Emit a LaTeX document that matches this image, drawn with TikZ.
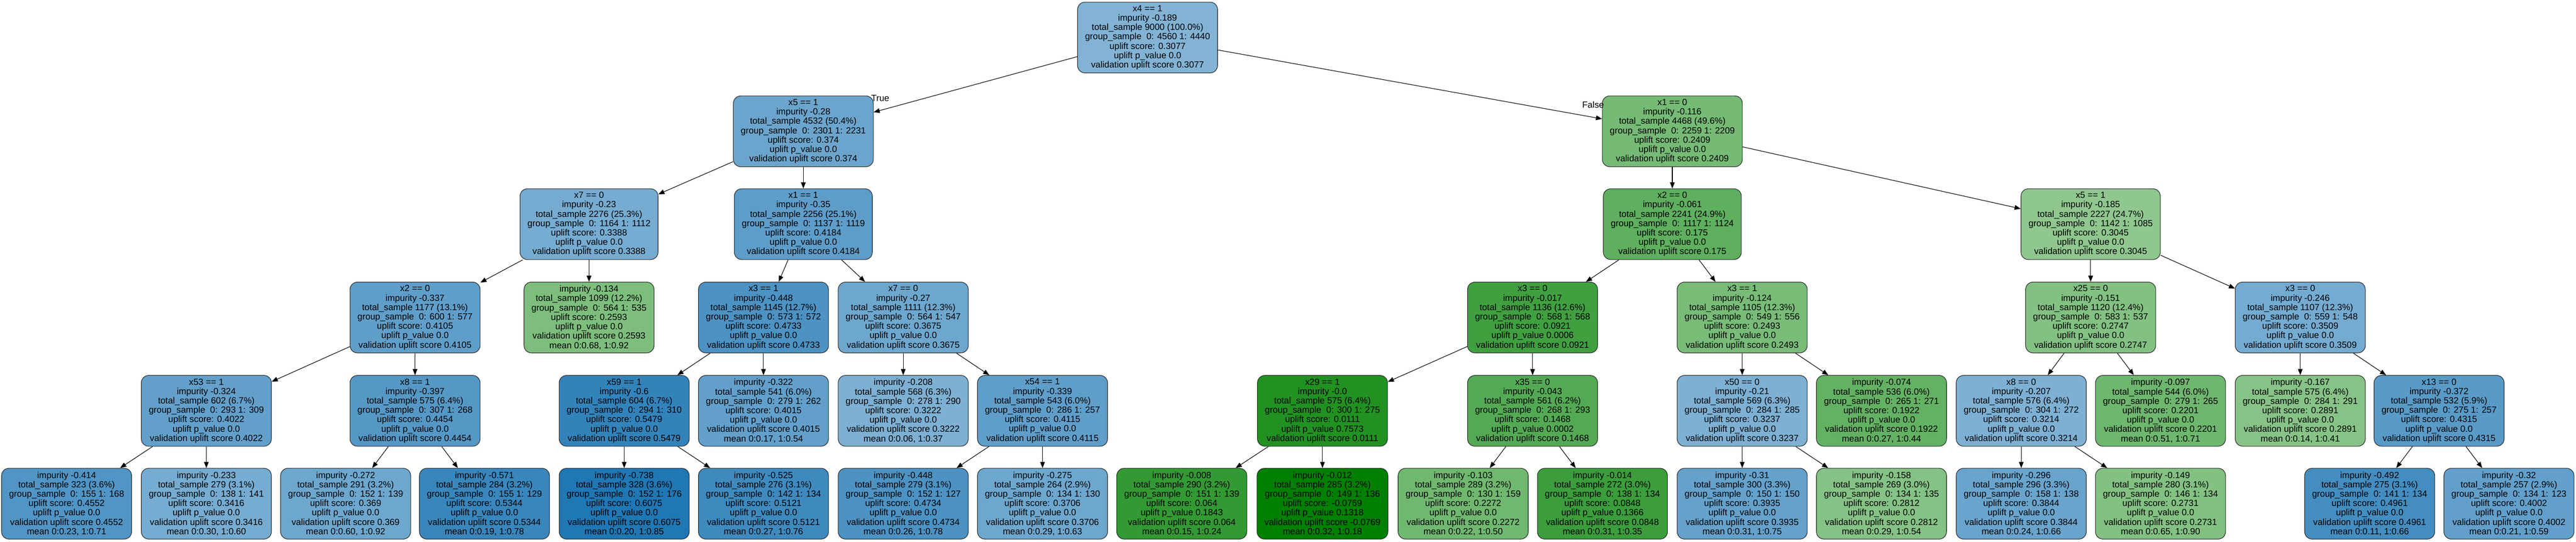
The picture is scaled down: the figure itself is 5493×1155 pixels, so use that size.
\documentclass[tikz,border=0pt]{standalone}
\usepackage{fontspec}
\setmainfont{Liberation Sans}
\usepackage{xcolor}
\usetikzlibrary{arrows.meta}

\definecolor{tblue}{RGB}{31,119,180}
\definecolor{tgreen}{RGB}{0,128,0}

\newcommand{\splitlab}[7]{#1\\impurity #2\\total\_sample #3\\group\_sample\ \ 0: #4 1: #5\\uplift score: #6\\uplift p\_value #7\\validation uplift score #6}
\newcommand{\leaflab}[8]{impurity #1\\total\_sample #2\\group\_sample\ \ 0: #3 1: #4\\uplift score: #5\\uplift p\_value #6\\validation uplift score #5\\mean 0:#7, 1:#8}

\tikzset{
	tnode/.style={draw=black!85, line width=1.2pt, rounded corners=16pt, align=center,
		font=\fontsize{19}{20}\selectfont, inner xsep=16pt, inner ysep=0pt,
		minimum width=272pt, minimum height=151pt},
	bnode/.style={tnode, fill=tblue!#1},
	gnode/.style={tnode, fill=tgreen!#1},
	link/.style={draw=black, line width=1.2pt, -{Triangle[length=13pt,width=10pt]}},
	edgelab/.style={font=\fontsize{19}{20}\selectfont, inner sep=0pt}
}

\begin{document}
\begin{tikzpicture}[x=1pt,y=-1pt]
	\useasboundingbox (0,0) rectangle (5493,1155);
	
	% root and first split
	\node[bnode=56] (r) at (2447,80) {\splitlab{x4 == 1}{-0.189}{9000 (100.0\%)}{4560}{4440}{0.3077}{0.0}};
	\node[bnode=66] (t) at (1713,280) {\splitlab{x5 == 1}{-0.28}{4532 (50.4\%)}{2301}{2231}{0.374}{0.0}};
	\node[gnode=54] (f) at (3566,280) {\splitlab{x1 == 0}{-0.116}{4468 (49.6\%)}{2259}{2209}{0.2409}{0.0}};
	
	\node[bnode=61] (tt) at (1256,478) {\splitlab{x7 == 0}{-0.23}{2276 (25.3\%)}{1164}{1112}{0.3388}{0.0}};
	\node[bnode=72] (tf) at (1713,478) {\splitlab{x1 == 1}{-0.35}{2256 (25.1\%)}{1137}{1119}{0.4184}{0.0}};
	\node[gnode=63] (ft) at (3566,478) {\splitlab{x2 == 0}{-0.061}{2241 (24.9\%)}{1117}{1124}{0.175}{0.0}};
	\node[gnode=44] (ff) at (4458,478) {\splitlab{x5 == 1}{-0.185}{2227 (24.7\%)}{1142}{1085}{0.3045}{0.0}};
	
	\node[bnode=71] (ttt) at (885,677) {\splitlab{x2 == 0}{-0.337}{1177 (13.1\%)}{600}{577}{0.4105}{0.0}};
	\node[gnode=51] (ttf) at (1256,677) {\leaflab{-0.134}{1099 (12.2\%)}{564}{535}{0.2593}{0.0}{0.68}{0.92}};
	\node[bnode=80] (tft) at (1628,677) {\splitlab{x3 == 1}{-0.448}{1145 (12.7\%)}{573}{572}{0.4733}{0.0}};
	\node[bnode=65] (tff) at (1926,677) {\splitlab{x7 == 0}{-0.27}{1111 (12.3\%)}{564}{547}{0.3675}{0.0}};
	\node[gnode=75] (ftt) at (3268,677) {\splitlab{x3 == 0}{-0.017}{1136 (12.6\%)}{568}{568}{0.0921}{0.0006}};
	\node[gnode=53] (ftf) at (3715,677) {\splitlab{x3 == 1}{-0.124}{1105 (12.3\%)}{549}{556}{0.2493}{0.0}};
	\node[gnode=49] (fft) at (4458,677) {\splitlab{x25 == 0}{-0.151}{1120 (12.4\%)}{583}{537}{0.2747}{0.0}};
	\node[bnode=62] (fff) at (4905,677) {\splitlab{x3 == 0}{-0.246}{1107 (12.3\%)}{559}{548}{0.3509}{0.0}};
	
	\node[bnode=70] (tttt) at (440,876) {\splitlab{x53 == 1}{-0.324}{602 (6.7\%)}{293}{309}{0.4022}{0.0}};
	\node[bnode=76] (tttf) at (885,876) {\splitlab{x8 == 1}{-0.397}{575 (6.4\%)}{307}{268}{0.4454}{0.0}};
	\node[bnode=91] (tftt) at (1331,876) {\splitlab{x59 == 1}{-0.6}{604 (6.7\%)}{294}{310}{0.5479}{0.0}};
	\node[bnode=70] (tftf) at (1628,876) {\leaflab{-0.322}{541 (6.0\%)}{279}{262}{0.4015}{0.0}{0.17}{0.54}};
	\node[bnode=58] (tfft) at (1926,876) {\leaflab{-0.208}{568 (6.3\%)}{278}{290}{0.3222}{0.0}{0.06}{0.37}};
	\node[bnode=71] (tfff) at (2223,876) {\splitlab{x54 == 1}{-0.339}{543 (6.0\%)}{286}{257}{0.4115}{0.0}};
	\node[gnode=87] (fttt) at (2820,876) {\splitlab{x29 == 1}{-0.0}{575 (6.4\%)}{300}{275}{0.0111}{0.7573}};
	\node[gnode=67] (fttf) at (3268,876) {\splitlab{x35 == 0}{-0.043}{561 (6.2\%)}{268}{293}{0.1468}{0.0002}};
	\node[bnode=58] (ftft) at (3715,876) {\splitlab{x50 == 0}{-0.21}{569 (6.3\%)}{284}{285}{0.3237}{0.0}};
	\node[gnode=61] (ftff) at (4012,876) {\leaflab{-0.074}{536 (6.0\%)}{265}{271}{0.1922}{0.0}{0.27}{0.44}};
	\node[bnode=58] (fftt) at (4310,876) {\splitlab{x8 == 0}{-0.207}{576 (6.4\%)}{304}{272}{0.3214}{0.0}};
	\node[gnode=57] (fftf) at (4607,876) {\leaflab{-0.097}{544 (6.0\%)}{279}{265}{0.2201}{0.0}{0.51}{0.71}};
	\node[gnode=47] (ffft) at (4905,876) {\leaflab{-0.167}{575 (6.4\%)}{284}{291}{0.2891}{0.0}{0.14}{0.41}};
	\node[bnode=74] (ffff) at (5201,876) {\splitlab{x13 == 0}{-0.372}{532 (5.9\%)}{275}{257}{0.4315}{0.0}};
	
	% leaves
	\node[bnode=78] (ttttt) at (142,1074) {\leaflab{-0.414}{323 (3.6\%)}{155}{168}{0.4552}{0.0}{0.23}{0.71}};
	\node[bnode=61] (ttttf) at (440,1074) {\leaflab{-0.233}{279 (3.1\%)}{138}{141}{0.3416}{0.0}{0.30}{0.60}};
	\node[bnode=65] (tttft) at (737,1074) {\leaflab{-0.272}{291 (3.2\%)}{152}{139}{0.369}{0.0}{0.60}{0.92}};
	\node[bnode=89] (tttff) at (1033,1074) {\leaflab{-0.571}{284 (3.2\%)}{155}{129}{0.5344}{0.0}{0.19}{0.78}};
	\node[bnode=100] (tfttt) at (1331,1074) {\leaflab{-0.738}{328 (3.6\%)}{152}{176}{0.6075}{0.0}{0.20}{0.85}};
	\node[bnode=86] (tfttf) at (1628,1074) {\leaflab{-0.525}{276 (3.1\%)}{142}{134}{0.5121}{0.0}{0.27}{0.76}};
	\node[bnode=80] (tffft) at (1926,1074) {\leaflab{-0.448}{279 (3.1\%)}{152}{127}{0.4734}{0.0}{0.26}{0.78}};
	\node[bnode=65] (tffff) at (2223,1074) {\leaflab{-0.275}{264 (2.9\%)}{134}{130}{0.3706}{0.0}{0.29}{0.63}};
	\node[gnode=80] (ftttt) at (2520,1074) {\leaflab{-0.008}{290 (3.2\%)}{151}{139}{0.064}{0.1843}{0.15}{0.24}};
	\node[gnode=100] (ftttf) at (2820,1074) {\leaflab{-0.012}{285 (3.2\%)}{149}{136}{-0.0769}{0.1318}{0.32}{0.18}};
	\node[gnode=56] (fttft) at (3120,1074) {\leaflab{-0.103}{289 (3.2\%)}{130}{159}{0.2272}{0.0}{0.22}{0.50}};
	\node[gnode=77] (fttff) at (3417,1074) {\leaflab{-0.014}{272 (3.0\%)}{138}{134}{0.0848}{0.1366}{0.31}{0.35}};
	\node[bnode=69] (ftftt) at (3715,1074) {\leaflab{-0.31}{300 (3.3\%)}{150}{150}{0.3935}{0.0}{0.31}{0.75}};
	\node[gnode=48] (ftftf) at (4012,1074) {\leaflab{-0.158}{269 (3.0\%)}{134}{135}{0.2812}{0.0}{0.29}{0.54}};
	\node[bnode=67] (ffttt) at (4310,1074) {\leaflab{-0.296}{296 (3.3\%)}{158}{138}{0.3844}{0.0}{0.24}{0.66}};
	\node[gnode=49] (ffttf) at (4607,1074) {\leaflab{-0.149}{280 (3.1\%)}{146}{134}{0.2731}{0.0}{0.65}{0.90}};
	\node[bnode=84] (fffft) at (5053,1074) {\leaflab{-0.492}{275 (3.1\%)}{141}{134}{0.4961}{0.0}{0.11}{0.66}};
	\node[bnode=70] (fffff) at (5350,1074) {\leaflab{-0.32}{257 (2.9\%)}{134}{123}{0.4002}{0.0}{0.21}{0.59}};
	
	% connectors
	\draw[link] (r) -- (t);
	\draw[link] (r) -- (f);
	\node[edgelab] (truelab) at (1877,209) {True};
	\node[edgelab] (falselab) at (3397,223) {False};
	
	\draw[link] (t) -- (tt);
	\draw[link] (t) -- (tf);
	\draw[link] (tt) -- (ttt);
	\draw[link] (tt) -- (ttf);
	\draw[link] (ttt) -- (tttt);
	\draw[link] (ttt) -- (tttf);
	\draw[link] (tttt) -- (ttttt);
	\draw[link] (tttt) -- (ttttf);
	\draw[link] (tttf) -- (tttft);
	\draw[link] (tttf) -- (tttff);
	\draw[link] (tf) -- (tft);
	\draw[link] (tf) -- (tff);
	\draw[link] (tft) -- (tftt);
	\draw[link] (tft) -- (tftf);
	\draw[link] (tftt) -- (tfttt);
	\draw[link] (tftt) -- (tfttf);
	\draw[link] (tff) -- (tfft);
	\draw[link] (tff) -- (tfff);
	\draw[link] (tfff) -- (tffft);
	\draw[link] (tfff) -- (tffff);
	
	\draw[link] (f) -- (ft);
	\draw[link] (f) -- (ff);
	\draw[link] (ft) -- (ftt);
	\draw[link] (ft) -- (ftf);
	\draw[link] (ftt) -- (fttt);
	\draw[link] (ftt) -- (fttf);
	\draw[link] (fttt) -- (ftttt);
	\draw[link] (fttt) -- (ftttf);
	\draw[link] (fttf) -- (fttft);
	\draw[link] (fttf) -- (fttff);
	\draw[link] (ftf) -- (ftft);
	\draw[link] (ftf) -- (ftff);
	\draw[link] (ftft) -- (ftftt);
	\draw[link] (ftft) -- (ftftf);
	\draw[link] (ff) -- (fft);
	\draw[link] (ff) -- (fff);
	\draw[link] (fft) -- (fftt);
	\draw[link] (fft) -- (fftf);
	\draw[link] (fftt) -- (ffttt);
	\draw[link] (fftt) -- (ffttf);
	\draw[link] (fff) -- (ffft);
	\draw[link] (fff) -- (ffff);
	\draw[link] (ffff) -- (fffft);
	\draw[link] (ffff) -- (fffff);
\end{tikzpicture}
\end{document}
